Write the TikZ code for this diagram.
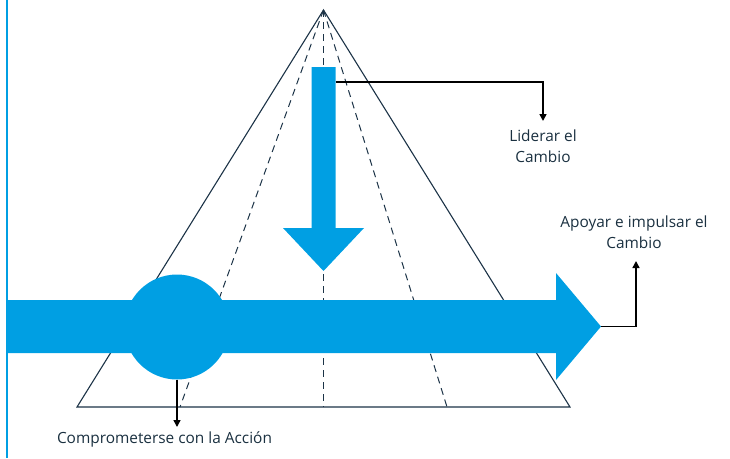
\documentclass[tikz,border=0pt]{standalone}
\usepackage{fontspec}
\setmainfont{Open Sans}
\usetikzlibrary{arrows.meta}
\definecolor{flow}{HTML}{009FE3}
\definecolor{frame}{HTML}{1C3347}
\definecolor{ink}{HTML}{1A3040}
\begin{document}
\begin{tikzpicture}[x=1pt,y=-1pt,
  outline/.style={draw=frame,line width=1.1pt,line join=miter},
  guide/.style={draw=frame,line width=1pt,dash pattern=on 7pt off 5pt},
  flowfill/.style={fill=flow,draw=none},
  link/.style={draw=black,line width=1.5pt,-{Triangle[length=7pt,width=7pt]}},
  caption/.style={text=ink,font=\fontsize{15.4}{21}\selectfont,align=center,inner sep=0pt}]
\useasboundingbox (0,0) rectangle (730,458);

% left margin rule
\draw[flow,line width=1.6pt] (7,0) -- (7,458);

% pyramid with its three inner guides
\coordinate (apex) at (323.5,10);
\coordinate (baseL) at (77,407);
\coordinate (baseR) at (570,407);
\draw[guide] (apex) -- (180,407);
\draw[guide] (apex) -- (323.5,407);
\draw[guide] (apex) -- (447,407);
\draw[outline] (baseL) -- (apex) -- (baseR) -- cycle;

% downward arrow
\fill[flowfill] (311.5,67) -- (335.5,67) -- (335.5,228) -- (364,228)
  -- (323.5,271) -- (283,228) -- (311.5,228) -- cycle;
\coordinate (lead-out) at (335.5,82);

% horizontal arrow
\fill[flowfill] (7,300) -- (556,300) -- (556,273) -- (601,326.5)
  -- (556,380) -- (556,353) -- (7,353) -- cycle;
\coordinate (push-tip) at (601,326.5);

% disc on the horizontal arrow
\node[circle,fill=flow,draw=none,inner sep=0pt,minimum size=105pt] (commit) at (177,327) {};

% labels
\node[caption,anchor=north] (leadlabel) at (543,130) {Liderar el\\Cambio};
\node[caption,anchor=south] (pushlabel) at (634,249) {Apoyar e impulsar el\\Cambio};
\node[caption,anchor=north] (commitlabel) at (164.5,431) {Comprometerse con la Acción};

% connectors
\draw[link] (lead-out) -| ([yshift=9pt]leadlabel.north);
\draw[link] (push-tip) -| ([xshift=2pt,yshift=-12pt]pushlabel.south);
\draw[link] (commit.south) -- ([yshift=4pt]commit.south |- commitlabel.north);
\end{tikzpicture}
\end{document}
